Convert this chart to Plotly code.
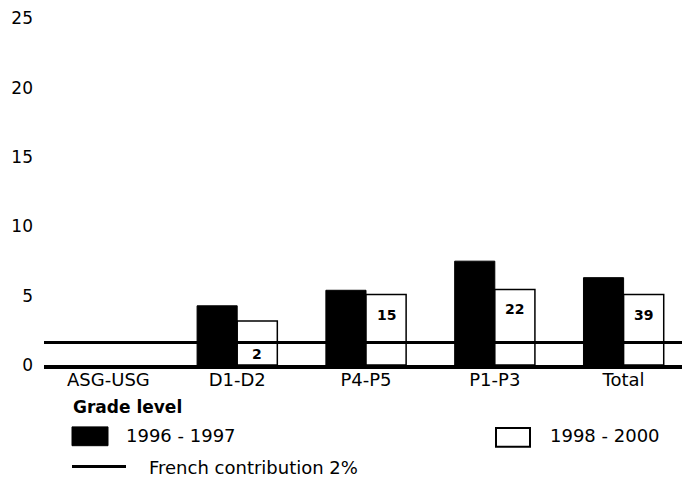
import plotly.graph_objects as go

categories = ["ASG-USG", "D1-D2", "P4-P5", "P1-P3", "Total"]
values_1996_1997 = [None, 4.27, 5.39, 7.49, 6.3]
values_1998_2000 = [None, 3.18, 5.09, 5.44, 5.09]
count_labels = ["", "2", "15", "22", "39"]
count_label_y = [None, 0.82, 3.6, 4.04, 3.6]
french_contribution = 1.63
y_ticks = [0, 5, 10, 15, 20, 25]

# the page body adds an 8px margin; compensate so the picture lines up
OFF = 8
W, H = 690 - OFF, 483 - OFF
ML, MR, MT, MB = 44 - OFF, 2, 0, 117.5
PW, PH = W - ML - MR, H - MT - MB
PX_PER_UNIT = 14.0
Y_TOP = PH / PX_PER_UNIT

def px(xp):
    return (xp - OFF - ML) / PW

def py(yp):
    return (H - MB - (yp - OFF)) / PH

FONT = "DejaVu Sans"

fig = go.Figure()
fig.add_trace(go.Bar(x=categories, y=values_1996_1997, name="1996 - 1997",
                     marker=dict(color="black", line=dict(color="black", width=1)),
                     showlegend=False))
fig.add_trace(go.Bar(x=categories, y=values_1998_2000, name="1998 - 2000",
                     marker=dict(color="white", line=dict(color="black", width=1.5)),
                     showlegend=False))

# French contribution line
fig.add_shape(type="line", xref="paper", yref="y", x0=0, x1=1,
              y0=french_contribution, y1=french_contribution,
              line=dict(color="black", width=3))

for c, t, yv in zip(categories, count_labels, count_label_y):
    if t:
        fig.add_annotation(x=c, y=yv, text="<b>%s</b>" % t, showarrow=False,
                           xshift=20, font=dict(family=FONT, size=14, color="black"))

# Manual legend
fig.add_annotation(xref="paper", yref="paper", x=px(71), y=py(408), xanchor="left",
                   yanchor="middle", text="<b>Grade level</b>", showarrow=False,
                   font=dict(family=FONT, size=17, color="black"))
fig.add_shape(type="rect", xref="paper", yref="paper", x0=px(72), x1=px(108),
              y0=py(447), y1=py(428), fillcolor="black", line=dict(color="black", width=1))
fig.add_annotation(xref="paper", yref="paper", x=px(124), y=py(437), xanchor="left",
                   yanchor="middle", text="1996 - 1997", showarrow=False,
                   font=dict(family=FONT, size=18, color="black"))
fig.add_shape(type="rect", xref="paper", yref="paper", x0=px(496), x1=px(530),
              y0=py(448), y1=py(429), fillcolor="white", line=dict(color="black", width=2))
fig.add_annotation(xref="paper", yref="paper", x=px(548), y=py(437), xanchor="left",
                   yanchor="middle", text="1998 - 2000", showarrow=False,
                   font=dict(family=FONT, size=18, color="black"))
fig.add_shape(type="line", xref="paper", yref="paper", x0=px(72), x1=px(126),
              y0=py(468), y1=py(468), line=dict(color="black", width=3))
fig.add_annotation(xref="paper", yref="paper", x=px(147), y=py(469), xanchor="left",
                   yanchor="middle", text="French contribution 2%", showarrow=False,
                   font=dict(family=FONT, size=18, color="black"))

fig.update_layout(
    width=W, height=H,
    margin=dict(l=ML, r=MR, t=MT, b=MB, pad=0),
    paper_bgcolor="white", plot_bgcolor="white",
    barmode="group", bargap=0.377, bargroupgap=0,
    font=dict(family=FONT, color="black"),
)
fig.update_xaxes(showgrid=False, showline=True, linecolor="black", linewidth=3.5,
                 ticks="", ticklabelstandoff=-4,
                 tickfont=dict(family=FONT, size=18, color="black"),
                 zeroline=False)
fig.update_yaxes(range=[0, Y_TOP], tickvals=y_ticks, showgrid=False, zeroline=False,
                 showline=False, ticks="", ticklabelstandoff=10,
                 ticklabeloverflow="allow",
                 tickfont=dict(family=FONT, size=17, color="black"))

fig.write_html("out.html")
